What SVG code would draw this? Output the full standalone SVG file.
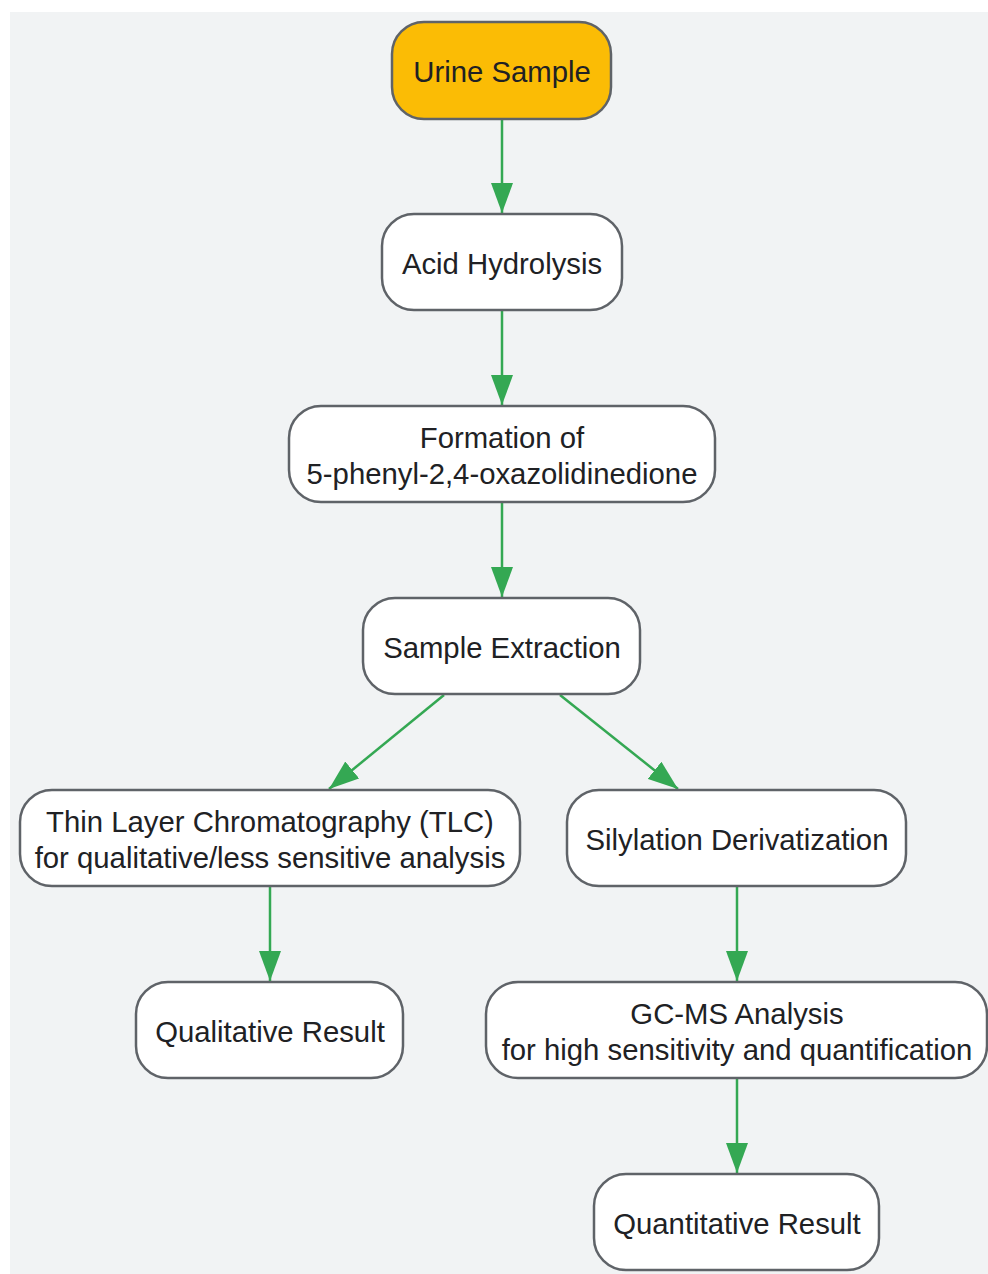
<svg xmlns="http://www.w3.org/2000/svg" width="988" height="1274" viewBox="0 0 988 1274">
<defs>
<style>
.n rect{fill:#fff;stroke:#5f6368;stroke-width:2.5}
.n text{font-family:"Liberation Sans",Arial,sans-serif;font-size:29.3px;fill:#202124;text-anchor:middle;dominant-baseline:central}
.e line{stroke:#34A853;stroke-width:2.5;fill:none}
</style>
<marker id="ah" viewBox="0 0 30 22" refX="30" refY="11" markerWidth="30" markerHeight="22" markerUnits="userSpaceOnUse" orient="auto">
<path d="M0,0 L30,11 L0,22 Z" fill="#34A853"/>
</marker>
</defs>
<rect width="988" height="1274" fill="#fff"/>
<rect x="10" y="12" width="978" height="1262" fill="#f1f3f4"/>
<g class="e">
<line x1="502" y1="120" x2="502" y2="213" marker-end="url(#ah)"/>
<line x1="502" y1="311" x2="502" y2="405" marker-end="url(#ah)"/>
<line x1="502" y1="503" x2="502" y2="597" marker-end="url(#ah)"/>
<line x1="444" y1="695" x2="329" y2="789" marker-end="url(#ah)"/>
<line x1="560" y1="695" x2="678" y2="789" marker-end="url(#ah)"/>
<line x1="270" y1="887" x2="270" y2="981" marker-end="url(#ah)"/>
<line x1="737" y1="887" x2="737" y2="981" marker-end="url(#ah)"/>
<line x1="737" y1="1079" x2="737" y2="1173" marker-end="url(#ah)"/>
</g>
<g id="urine" class="n"><rect x="392" y="22" width="219" height="97" rx="32" style="fill:#FBBC05"/><text x="502" y="71">Urine Sample</text></g>
<g id="acid" class="n"><rect x="382" y="214" width="240" height="96" rx="32"/><text x="502" y="263">Acid Hydrolysis</text></g>
<g id="formation" class="n"><rect x="289" y="406" width="426" height="96" rx="32"/><text x="502" y="437">Formation of</text><text x="502" y="473">5-phenyl-2,4-oxazolidinedione</text></g>
<g id="extraction" class="n"><rect x="363" y="598" width="277" height="96" rx="32"/><text x="502" y="647">Sample Extraction</text></g>
<g id="tlc" class="n"><rect x="20" y="790" width="500" height="96" rx="32"/><text x="270" y="821">Thin Layer Chromatography (TLC)</text><text x="270" y="857">for qualitative/less sensitive analysis</text></g>
<g id="silylation" class="n"><rect x="567" y="790" width="339" height="96" rx="32"/><text x="737" y="839">Silylation Derivatization</text></g>
<g id="qual" class="n"><rect x="136" y="982" width="267" height="96" rx="32"/><text x="270" y="1031">Qualitative Result</text></g>
<g id="gcms" class="n"><rect x="486" y="982" width="501" height="96" rx="32"/><text x="737" y="1013">GC-MS Analysis</text><text x="737" y="1049">for high sensitivity and quantification</text></g>
<g id="quant" class="n"><rect x="594" y="1174" width="285" height="96" rx="32"/><text x="737" y="1223">Quantitative Result</text></g>
</svg>
